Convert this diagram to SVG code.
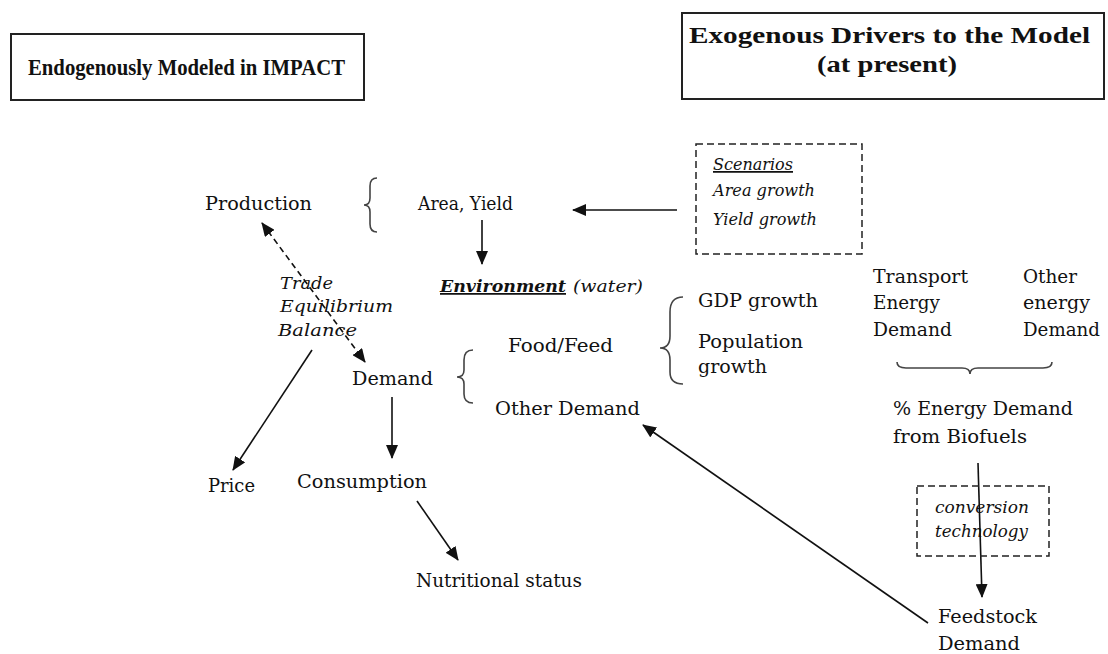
<svg xmlns="http://www.w3.org/2000/svg" width="1108" height="654" viewBox="0 0 1108 654">
<style>
.t{font-family:"DejaVu Serif","Liberation Serif",serif;font-size:18.5px;fill:#111}
.i{font-family:"DejaVu Serif","Liberation Serif",serif;font-size:17.5px;font-style:italic;fill:#111}
.h{font-family:"Liberation Serif","DejaVu Serif",serif;font-size:23px;font-weight:bold;fill:#111}
.box{fill:#fff;stroke:#222;stroke-width:2}
.dbox{fill:none;stroke:#222;stroke-width:1.5;stroke-dasharray:7,4}
.br{fill:none;stroke:#444;stroke-width:1.6}
.ln{fill:none;stroke:#111;stroke-width:1.6}
</style>
<defs>
<marker id="ah" markerUnits="userSpaceOnUse" markerWidth="14" markerHeight="12" refX="13" refY="6" orient="auto">
<path d="M0,0 L14,6 L0,12 z" fill="#111"/>
</marker>
<marker id="ahs" markerUnits="userSpaceOnUse" markerWidth="14" markerHeight="12" refX="1" refY="6" orient="auto">
<path d="M14,0 L0,6 L14,12 z" fill="#111"/>
</marker>
</defs>
<rect width="1108" height="654" fill="#fff"/>

<g id="header-endo">
<rect class="box" x="11" y="34" width="353" height="66"/>
<text class="h" x="28" y="75" textLength="317" lengthAdjust="spacingAndGlyphs">Endogenously Modeled in IMPACT</text>
</g>
<g id="header-exo">
<rect class="box" x="682" y="13" width="422" height="86"/>
<text class="h" x="689" y="43" textLength="401" lengthAdjust="spacingAndGlyphs">Exogenous Drivers to the Model</text>
<text class="h" x="817" y="72" textLength="140" lengthAdjust="spacingAndGlyphs">(at present)</text>
</g>

<g id="connectors">
<line class="ln" x1="677" y1="210" x2="573" y2="210" marker-end="url(#ah)"/>
<line class="ln" x1="482" y1="220" x2="482" y2="264" marker-end="url(#ah)"/>
<line class="ln" x1="262" y1="223" x2="365" y2="362" stroke-dasharray="6,4" marker-start="url(#ahs)" marker-end="url(#ah)"/>
<line class="ln" x1="312" y1="350" x2="233" y2="470" marker-end="url(#ah)"/>
<line class="ln" x1="392" y1="397" x2="392" y2="458" marker-end="url(#ah)"/>
<line class="ln" x1="417" y1="501" x2="458" y2="560" marker-end="url(#ah)"/>
<line class="ln" x1="978" y1="463" x2="982" y2="597" marker-end="url(#ah)"/>
<line class="ln" x1="928" y1="623" x2="643" y2="425" marker-end="url(#ah)"/>
</g>

<g id="production"><text class="t" x="205" y="210" textLength="107" lengthAdjust="spacingAndGlyphs">Production</text></g>
<g id="brace-production"><path class="br" d="M377,178 Q370,178 370,186 L370,198 Q370,205 364,205 Q370,205 370,212 L370,224 Q370,232 377,232"/></g>
<g id="area-yield"><text class="t" x="418" y="210" textLength="95" lengthAdjust="spacingAndGlyphs">Area, Yield</text></g>

<g id="scenarios">
<rect class="dbox" x="696" y="144" width="166" height="110"/>
<text class="i" x="713" y="170" textLength="80" lengthAdjust="spacingAndGlyphs" text-decoration="underline">Scenarios</text>
<text class="i" x="713" y="196" textLength="102" lengthAdjust="spacingAndGlyphs">Area growth</text>
<text class="i" x="713" y="225" textLength="104" lengthAdjust="spacingAndGlyphs">Yield growth</text>
</g>

<g id="trade">
<text class="i" x="280" y="289" textLength="53" lengthAdjust="spacingAndGlyphs">Trade</text>
<text class="i" x="280" y="312" textLength="113" lengthAdjust="spacingAndGlyphs">Equilibrium</text>
<text class="i" x="278" y="336" textLength="79" lengthAdjust="spacingAndGlyphs">Balance</text>
</g>

<g id="environment">
<text class="i" x="440" y="292"><tspan font-weight="bold" text-decoration="underline" textLength="126" lengthAdjust="spacingAndGlyphs">Environment</tspan></text>
<text class="i" x="573" y="292" textLength="70" lengthAdjust="spacingAndGlyphs">(water)</text>
</g>

<g id="demand"><text class="t" x="352" y="385" textLength="81" lengthAdjust="spacingAndGlyphs">Demand</text></g>
<g id="brace-demand"><path class="br" d="M473,350 Q464,350 464,360 L464,370 Q464,377 457,377 Q464,377 464,384 L464,394 Q464,403 473,403"/></g>
<g id="food-feed"><text class="t" x="508" y="352" textLength="105" lengthAdjust="spacingAndGlyphs">Food/Feed</text></g>
<g id="other-demand"><text class="t" x="495" y="415" textLength="145" lengthAdjust="spacingAndGlyphs">Other Demand</text></g>

<g id="brace-gdp"><path class="br" d="M683,297 Q670,297 670,312 L670,336 Q670,348 660,348 Q670,348 670,360 L670,372 Q670,384 683,384"/></g>
<g id="gdp"><text class="t" x="698" y="307" textLength="120" lengthAdjust="spacingAndGlyphs">GDP growth</text></g>
<g id="population">
<text class="t" x="698" y="348" textLength="105" lengthAdjust="spacingAndGlyphs">Population</text>
<text class="t" x="698" y="373" textLength="69" lengthAdjust="spacingAndGlyphs">growth</text>
</g>

<g id="transport">
<text class="t" x="873" y="283" textLength="95" lengthAdjust="spacingAndGlyphs">Transport</text>
<text class="t" x="873" y="309" textLength="67" lengthAdjust="spacingAndGlyphs">Energy</text>
<text class="t" x="873" y="336" textLength="79" lengthAdjust="spacingAndGlyphs">Demand</text>
</g>
<g id="other-energy">
<text class="t" x="1023" y="283" textLength="54" lengthAdjust="spacingAndGlyphs">Other</text>
<text class="t" x="1023" y="309" textLength="67" lengthAdjust="spacingAndGlyphs">energy</text>
<text class="t" x="1023" y="336" textLength="77" lengthAdjust="spacingAndGlyphs">Demand</text>
</g>
<g id="brace-energy"><path class="br" d="M897,362 Q897,368 906,368 L962,368 Q970,368 970,374 Q970,368 978,368 L1043,368 Q1052,368 1052,362"/></g>
<g id="pct-energy">
<text class="t" x="893" y="415" textLength="180" lengthAdjust="spacingAndGlyphs">% Energy Demand</text>
<text class="t" x="893" y="443" textLength="134" lengthAdjust="spacingAndGlyphs">from Biofuels</text>
</g>
<g id="conversion">
<rect class="dbox" x="917" y="486" width="132" height="70"/>
<text class="i" x="935" y="513" textLength="94" lengthAdjust="spacingAndGlyphs">conversion</text>
<text class="i" x="935" y="537" textLength="93" lengthAdjust="spacingAndGlyphs">technology</text>
</g>
<g id="feedstock">
<text class="t" x="938" y="623" textLength="99" lengthAdjust="spacingAndGlyphs">Feedstock</text>
<text class="t" x="938" y="650" textLength="82" lengthAdjust="spacingAndGlyphs">Demand</text>
</g>

<g id="price"><text class="t" x="208" y="492" textLength="47" lengthAdjust="spacingAndGlyphs">Price</text></g>
<g id="consumption"><text class="t" x="297" y="488" textLength="130" lengthAdjust="spacingAndGlyphs">Consumption</text></g>
<g id="nutritional"><text class="t" x="416" y="587" textLength="166" lengthAdjust="spacingAndGlyphs">Nutritional status</text></g>
</svg>
